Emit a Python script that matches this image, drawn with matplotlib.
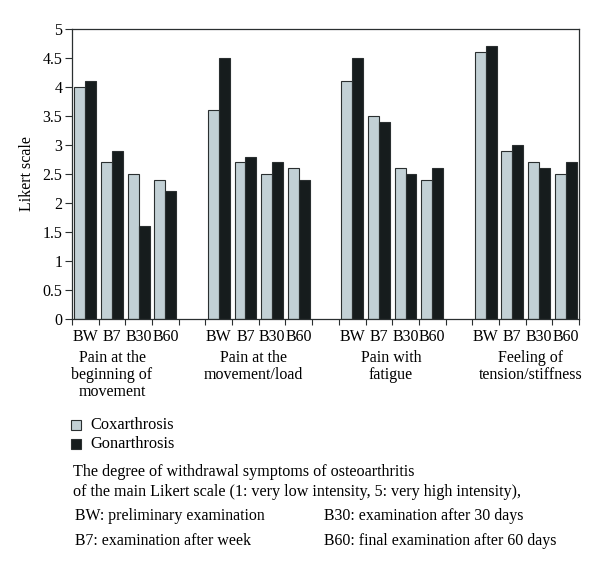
import numpy as np
import matplotlib
matplotlib.use("Agg")
import matplotlib.pyplot as plt
from matplotlib.ticker import FuncFormatter, FixedLocator
from matplotlib.patches import Rectangle

plt.rcParams['font.family'] = ['Liberation Serif', 'DejaVu Serif']

# data
groups = ["Pain at the\nbeginning of\nmovement", "Pain at the\nmovement/load",
          "Pain with\nfatigue", "Feeling of\ntension/stiffness"]
visits = ["BW", "B7", "B30", "B60"]
coxarthrosis = [4.0, 2.7, 2.5, 2.4,
                3.6, 2.7, 2.5, 2.6,
                4.1, 3.5, 2.6, 2.4,
                4.6, 2.9, 2.7, 2.5]
gonarthrosis = [4.1, 2.9, 1.6, 2.2,
                4.5, 2.8, 2.7, 2.4,
                4.5, 3.4, 2.5, 2.6,
                4.7, 3.0, 2.6, 2.7]
notes = ["BW: preliminary examination", "B30: examination after 30 days",
         "B7: examination after week", "B60: final examination after 60 days"]

light = "#c2d0d5"
dark = "#161c1d"
edge = "#2a2f30"

# one empty slot between groups, like the excel chart
xpos = np.array([g * 5 + k for g in range(4) for k in range(4)])

fig = plt.figure(figsize=(6, 5.72), dpi=100)
ax = fig.add_axes([0.12, 0.4423, 0.845, 0.507])

w = 0.41
ax.bar(xpos - w / 2, coxarthrosis, w, color=light, edgecolor=edge, linewidth=0.8)
ax.bar(xpos + w / 2, gonarthrosis, w, color=dark, edgecolor=edge, linewidth=0.8)

ax.set_xlim(-0.5, 18.5)
ax.set_ylim(0, 5)
ax.set_yticks(np.arange(0, 5.01, 0.5))
ax.yaxis.set_major_formatter(FuncFormatter(lambda v, p: f"{v:g}"))
ax.set_ylabel("Likert scale", fontsize=11.5, labelpad=5)

ax.set_xticks(xpos)
ax.set_xticklabels(visits * 4, fontsize=11.5)
ax.xaxis.set_minor_locator(FixedLocator(np.arange(-0.5, 18.6, 1)))
ax.tick_params(axis='x', which='major', length=0, pad=7)
ax.tick_params(axis='x', which='minor', length=4, width=0.8, color=edge)
ax.tick_params(axis='y', length=5, width=0.8, color=edge, labelsize=11.5, pad=2)
for s in ax.spines.values():
    s.set_color(edge)
    s.set_linewidth(0.9)

# group labels under the tick labels
group_x = [1.0, 6.3, 11.45, 16.7]
for gx, lab in zip(group_x, groups):
    ax.text(gx, -(350 - 319) / 290, lab, ha='center', va='top', fontsize=11.5,
            linespacing=1.08, transform=ax.get_xaxis_transform())

# legend drawn by hand to get the small squares on the left
for i, (lab, col) in enumerate([("Coxarthrosis", light), ("Gonarthrosis", dark)]):
    yc = 1 - (425 + 19 * i) / 572
    fig.patches.append(Rectangle((71 / 600, yc - 5 / 572), 10 / 600, 10 / 572,
                                 facecolor=col, edgecolor=edge, linewidth=0.8,
                                 transform=fig.transFigure))
    fig.text(90 / 600, yc, lab, va='center', fontsize=11.8)

fig.text(73 / 600, 1 - 472 / 572, "The degree of withdrawal symptoms of osteoarthritis",
         va='center', fontsize=11.6)
fig.text(73 / 600, 1 - 492 / 572,
         "of the main Likert scale (1: very low intensity, 5: very high intensity),",
         va='center', fontsize=11.6)
fig.text(75 / 600, 1 - 516 / 572, notes[0], va='center', fontsize=11.4)
fig.text(324 / 600, 1 - 516 / 572, notes[1], va='center', fontsize=11.4)
fig.text(75 / 600, 1 - 541 / 572, notes[2], va='center', fontsize=11.4)
fig.text(324 / 600, 1 - 541 / 572, notes[3], va='center', fontsize=11.4)

fig.savefig("out.png", dpi=100)
